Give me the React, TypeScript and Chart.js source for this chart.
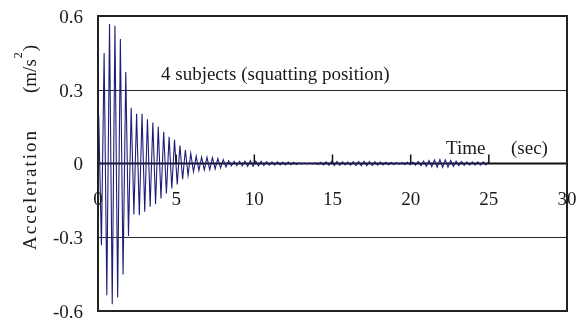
import React, { useEffect, useRef } from "react";
import { Chart, registerables } from "chart.js";

Chart.register(...registerables);

// Sampling of the extrema (peaks/troughs) of the recorded signal
const TIME_START = 0.045; // sec, time of first extremum
const HALF_PERIOD = 0.1732; // sec, spacing between successive extrema

// Acceleration at successive extrema (m/s^2)
const ACCEL_EXTREMA = [
  0.197, -0.333, 0.449, -0.536, 0.567, -0.573, 0.56, -0.545, 0.506, -0.451,
  0.372, -0.295, 0.227, -0.207, 0.202, -0.21, 0.202, -0.196, 0.18, -0.176,
  0.167, -0.166, 0.149, -0.142, 0.129, -0.122, 0.109, -0.102, 0.096, -0.085,
  0.073, -0.064, 0.055, -0.048, 0.041, -0.034, 0.03, -0.028, 0.026, -0.026,
  0.025, -0.025, 0.024, -0.022, 0.02, -0.018, 0.016, -0.014, 0.011, -0.01,
  0.009, -0.009, 0.009, -0.01, 0.01, -0.011, 0.011, -0.011, 0.01, -0.01,
  0.009, -0.008, 0.007, -0.007, 0.007, -0.007, 0.007, -0.006, 0.006, -0.006,
  0.006, -0.005, 0.005, -0.004, 0.003, -0.002, 0.002, -0.002, 0.002, -0.002,
  0.003, -0.004, 0.005, -0.006, 0.007, -0.007, 0.008, -0.008, 0.008, -0.007,
  0.007, -0.006, 0.006, -0.007, 0.007, -0.008, 0.008, -0.009, 0.009, -0.009,
  0.008, -0.008, 0.007, -0.007, 0.006, -0.006, 0.005, -0.005, 0.004, -0.004,
  0.003, -0.003, 0.003, -0.004, 0.005, -0.005, 0.006, -0.007, 0.008, -0.009,
  0.01, -0.011, 0.012, -0.013, 0.014, -0.015, 0.016, -0.016, 0.015, -0.014,
  0.013, -0.012, 0.01, -0.009, 0.008, -0.007, 0.007, -0.007, 0.007, -0.007,
  0.007, -0.007, 0.007, -0.006, 0.006,
];

const Y_TICKS = [-0.6, -0.3, 0, 0.3, 0.6];
const Y_TICK_LABELS = ["-0.6", "-0.3", "0", "0.3", "0.6"];
const Y_GRID = [-0.3, 0.3];
const X_TICKS = [0, 5, 10, 15, 20, 25, 30];
const X_TICK_LABELS = ["0", "5", "10", "15", "20", "25", "30"];
const X_MARKS = [5, 10, 15, 20, 25];

const ANNOTATION = "4 subjects (squatting position)";
const X_TITLE_A = "Time";
const X_TITLE_B = "(sec)";
const Y_TITLE_A = "Acceleration";
const Y_TITLE_B = "(m/s";
const Y_TITLE_SUP = "2";
const Y_TITLE_C = ")";

const FONT = '"Liberation Serif", "Times New Roman", serif';
const TEXT_COLOR = "#1a1a1a";
const LINE_COLOR = "#1e1e78";

const decorPlugin = {
  id: "decor",
  beforeDatasetsDraw(chart: any) {
    const ctx = chart.ctx;
    const { left, right } = chart.chartArea;
    const ys = chart.scales.y;
    ctx.save();
    ctx.strokeStyle = "#2a2a2a";
    ctx.lineWidth = 1;
    for (const v of Y_GRID) {
      const y = Math.round(ys.getPixelForValue(v)) + 0.5;
      ctx.beginPath();
      ctx.moveTo(left, y);
      ctx.lineTo(right, y);
      ctx.stroke();
    }
    // zero axis line
    const y0 = ys.getPixelForValue(0);
    ctx.strokeStyle = "#111";
    ctx.lineWidth = 2;
    ctx.beginPath();
    ctx.moveTo(left, y0);
    ctx.lineTo(right, y0);
    ctx.stroke();
    ctx.restore();
  },
  afterDatasetsDraw(chart: any) {
    const ctx = chart.ctx;
    const { left, right, top, bottom } = chart.chartArea;
    const xs = chart.scales.x;
    const ys = chart.scales.y;
    const y0 = ys.getPixelForValue(0);
    ctx.save();
    // tick marks on the zero line
    ctx.strokeStyle = "#111";
    ctx.lineWidth = 1.5;
    for (const t of X_MARKS) {
      const x = xs.getPixelForValue(t);
      ctx.beginPath();
      ctx.moveTo(x, y0);
      ctx.lineTo(x, y0 - 9);
      ctx.stroke();
    }
    // border box
    ctx.strokeStyle = "#222";
    ctx.lineWidth = 2;
    ctx.strokeRect(left, top, right - left, bottom - top);

    ctx.fillStyle = TEXT_COLOR;
    ctx.font = `19px ${FONT}`;
    // y tick labels
    ctx.textAlign = "right";
    ctx.textBaseline = "middle";
    Y_TICKS.forEach((v, i) => {
      ctx.fillText(Y_TICK_LABELS[i], 83, ys.getPixelForValue(v) + 2);
    });
    // x tick labels (below the zero line, inside plot)
    ctx.textAlign = "center";
    X_TICKS.forEach((t, i) => {
      ctx.fillText(X_TICK_LABELS[i], xs.getPixelForValue(t), y0 + 37);
    });
    // x axis title
    ctx.textAlign = "left";
    ctx.textBaseline = "alphabetic";
    ctx.fillText(X_TITLE_A, 446, y0 - 10);
    ctx.fillText(X_TITLE_B, 511, y0 - 10);
    // annotation
    ctx.fillText(ANNOTATION, 161, 80);

    // y axis title (rotated)
    ctx.translate(36, 250);
    ctx.rotate(-Math.PI / 2);
    ctx.font = `19px ${FONT}`;
    (ctx as any).letterSpacing = "2px";
    ctx.fillText(Y_TITLE_A, 0, 0);
    (ctx as any).letterSpacing = "0px";
    let px = 157;
    ctx.fillText(Y_TITLE_B, px, 0);
    px += ctx.measureText(Y_TITLE_B).width;
    ctx.font = `12px ${FONT}`;
    ctx.fillText(Y_TITLE_SUP, px + 1, -14);
    px += ctx.measureText(Y_TITLE_SUP).width + 2;
    ctx.font = `19px ${FONT}`;
    ctx.fillText(Y_TITLE_C, px, 0);
    ctx.restore();
  },
};

export default function App() {
  const canvasRef = useRef<HTMLCanvasElement | null>(null);

  useEffect(() => {
    if (!canvasRef.current) return;
    const points = ACCEL_EXTREMA.map((v, i) => ({
      x: TIME_START + i * HALF_PERIOD,
      y: v,
    }));
    const chart = new Chart(canvasRef.current, {
      type: "line",
      data: {
        datasets: [
          {
            data: points,
            borderColor: LINE_COLOR,
            borderWidth: 1.1,
            pointRadius: 0,
            tension: 0,
            fill: false,
          },
        ],
      },
      options: {
        responsive: false,
        animation: false,
        devicePixelRatio: 1,
        layout: { padding: { left: 98, right: 12, top: 16, bottom: 8 } },
        plugins: {
          legend: { display: false },
          tooltip: { enabled: false },
        },
        scales: {
          x: { type: "linear", min: 0, max: 30, display: false },
          y: { type: "linear", min: -0.6, max: 0.6, display: false },
        },
      },
      plugins: [decorPlugin],
    });
    return () => chart.destroy();
  }, []);

  return (
    <div style={{ position: "absolute", left: 0, top: 0, width: 579, height: 319 }}>
      <canvas ref={canvasRef} width={579} height={319} style={{ display: "block" }} />
    </div>
  );
}
